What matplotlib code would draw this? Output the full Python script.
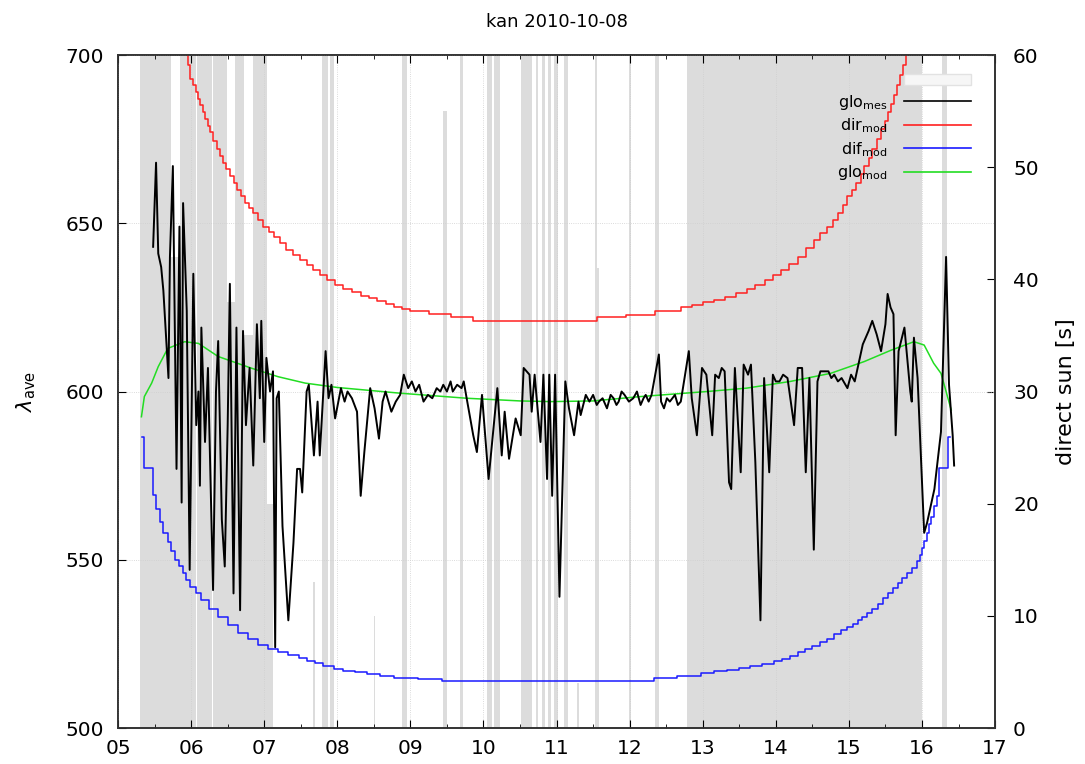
import matplotlib
matplotlib.use("Agg")
import matplotlib.pyplot as plt
from matplotlib.lines import Line2D
from matplotlib.patches import Patch
from matplotlib.ticker import FixedLocator, MultipleLocator
import numpy as np

plt.rcParams['font.family'] = ['DejaVu Sans']

# direct sun [s] per interval (start hour, end hour, seconds)
sun_t0 = [5.30, 5.73, 5.85, 6.08, 6.30, 6.49, 6.60, 6.72, 6.85, 7.04, 7.67, 7.79, 7.90,
          8.50, 8.89, 9.44, 9.68, 10.05, 10.15, 10.52, 10.72, 10.80, 10.88, 10.96,
          11.10, 11.28, 11.52, 11.56, 11.99, 12.35, 12.78, 16.27]
sun_t1 = [5.73, 5.85, 6.06, 6.28, 6.49, 6.60, 6.72, 6.85, 7.04, 7.12, 7.70, 7.87, 7.95,
          8.52, 8.96, 9.50, 9.72, 10.12, 10.22, 10.66, 10.75, 10.84, 10.92, 11.02,
          11.15, 11.31, 11.55, 11.58, 12.02, 12.40, 16.00, 16.34]
sun_s = [60, 42, 60, 60, 60, 38, 60, 35, 60, 20, 13, 60, 60,
         10, 60, 55, 60, 60, 60, 60, 60, 60, 60, 60,
         60, 4, 60, 41, 60, 60, 60, 60]

# measured global (glo_mes)
mes_h = [5.48, 5.52, 5.55, 5.59, 5.62, 5.66, 5.69, 5.71, 5.75, 5.78,
         5.80, 5.84, 5.87, 5.89, 5.94, 5.98, 6.03, 6.07, 6.10, 6.12,
         6.14, 6.19, 6.23, 6.30, 6.34, 6.37, 6.42, 6.46, 6.50, 6.53,
         6.58, 6.62, 6.67, 6.71, 6.75, 6.80, 6.85, 6.90, 6.94, 6.96,
         7.00, 7.03, 7.08, 7.12, 7.15, 7.17, 7.20, 7.25, 7.33, 7.40,
         7.45, 7.49, 7.52, 7.58, 7.61, 7.68, 7.73, 7.76, 7.84, 7.88,
         7.92, 7.97, 8.05, 8.10, 8.14, 8.20, 8.27, 8.32, 8.37, 8.45,
         8.51, 8.57, 8.62, 8.66, 8.74, 8.80, 8.86, 8.91, 8.97, 9.02,
         9.07, 9.12, 9.18, 9.24, 9.30, 9.36, 9.41, 9.45, 9.50, 9.55,
         9.58, 9.64, 9.70, 9.73, 9.77, 9.86, 9.91, 9.98, 10.07, 10.19,
         10.25, 10.29, 10.35, 10.44, 10.51, 10.55, 10.63, 10.66, 10.70, 10.78,
         10.82, 10.87, 10.90, 10.94, 10.98, 11.04, 11.12, 11.17, 11.24, 11.30,
         11.33, 11.40, 11.45, 11.50, 11.55, 11.58, 11.63, 11.69, 11.74, 11.78,
         11.82, 11.85, 11.89, 11.93, 11.99, 12.05, 12.10, 12.15, 12.19, 12.22,
         12.26, 12.30, 12.40, 12.43, 12.47, 12.51, 12.55, 12.62, 12.66, 12.70,
         12.81, 12.85, 12.92, 12.99, 13.05, 13.13, 13.17, 13.22, 13.26, 13.30,
         13.36, 13.39, 13.44, 13.52, 13.56, 13.62, 13.66, 13.72, 13.79, 13.84,
         13.91, 13.96, 14.00, 14.05, 14.10, 14.16, 14.25, 14.30, 14.36, 14.41,
         14.46, 14.52, 14.57, 14.61, 14.65, 14.72, 14.76, 14.80, 14.85, 14.90,
         14.98, 15.03, 15.08, 15.19, 15.27, 15.32, 15.38, 15.44, 15.50, 15.53,
         15.57, 15.61, 15.64, 15.68, 15.76, 15.84, 15.86, 15.89, 15.94, 16.03,
         16.07, 16.17, 16.26, 16.33, 16.37, 16.42, 16.44]
mes_v = [643, 668, 641, 637, 630, 615, 604, 640, 667, 612,
         577, 649, 567, 656, 624, 547, 635, 590, 600, 572,
         619, 585, 607, 541, 600, 615, 562, 548, 590, 632,
         540, 619, 535, 618, 590, 607, 578, 620, 598, 621,
         585, 610, 600, 606, 524, 598, 600, 560, 532, 555,
         577, 577, 570, 600, 602, 581, 597, 581, 612, 598,
         602, 592, 601, 597, 600, 598, 594, 569, 582, 601,
         595, 586, 597, 600, 594, 597, 599, 605, 601, 603,
         600, 602, 597, 599, 598, 601, 600, 602, 600, 603,
         600, 602, 601, 603, 598, 587, 582, 599, 574, 601,
         581, 594, 580, 592, 587, 607, 605, 594, 605, 585,
         605, 574, 605, 569, 605, 539, 603, 595, 587, 597,
         593, 599, 597, 599, 596, 597, 598, 595, 599, 598,
         596, 597, 600, 599, 597, 598, 600, 596, 598, 599,
         597, 599, 611, 597, 595, 598, 597, 599, 596, 597,
         612, 598, 587, 607, 605, 587, 605, 604, 607, 606,
         573, 571, 607, 576, 608, 605, 608, 579, 532, 604,
         576, 605, 603, 603, 605, 604, 590, 607, 607, 576,
         604, 553, 603, 606, 606, 606, 604, 605, 603, 604,
         601, 605, 603, 614, 618, 621, 617, 612, 620, 629,
         625, 623, 587, 612, 619, 600, 597, 616, 604, 558,
         561, 571, 588, 640, 602, 587, 578]

# modelled direct (dir_mod), step curve
dir_h = [5.93, 5.96, 5.99, 6.03, 6.06, 6.09, 6.12, 6.16, 6.19, 6.23, 6.26, 6.30, 6.35,
         6.39, 6.44, 6.48, 6.53, 6.58, 6.63, 6.68, 6.74, 6.79, 6.85, 6.92, 6.99, 7.06,
         7.13, 7.21, 7.30, 7.39, 7.49, 7.58, 7.67, 7.76, 7.86, 7.97, 8.08, 8.20, 8.32,
         8.43, 8.55, 8.66, 8.77, 8.88, 9.00, 9.25, 9.55, 9.85, 11.55, 11.95, 12.35,
         12.70, 12.85, 13.00, 13.15, 13.30, 13.45, 13.60, 13.72, 13.85, 13.96, 14.07,
         14.18, 14.30, 14.41, 14.52, 14.61, 14.70, 14.78, 14.85, 14.92, 14.98, 15.04,
         15.10, 15.16, 15.21, 15.27, 15.32, 15.38, 15.44, 15.49, 15.53, 15.58, 15.62,
         15.66, 15.70, 15.74, 15.78]
dir_v = [705, 697, 693, 691, 689, 687, 685, 683, 681, 679, 677, 674.5, 672,
         670, 668, 666, 664, 662, 660, 658, 656, 654.5, 653, 651, 649, 647.5,
         646, 644, 642, 640.5, 639, 637.5, 636, 634.5, 633, 631.7, 630.5, 629.5, 628.5,
         627.7, 627, 626, 625.2, 624.6, 624, 623, 622.2, 621, 622, 622.8, 624,
         625, 625.8, 626.5, 627.2, 628, 629.2, 630.5, 631.7, 633, 634.5, 636,
         638, 640, 642.5, 645, 647, 649, 651, 653, 655.5, 658, 660,
         662, 664.5, 667, 669.5, 672, 675, 678, 680.5, 683, 685.5, 688,
         691, 694, 697, 705]

# modelled diffuse (dif_mod), step curve
dif_h = [5.33, 5.36, 5.48, 5.52, 5.57, 5.62, 5.68, 5.73, 5.78, 5.84, 5.89, 5.93, 5.98,
         6.06, 6.14, 6.25, 6.37, 6.50, 6.64, 6.78, 6.92, 7.05, 7.19, 7.33, 7.47, 7.58,
         7.69, 7.81, 7.95, 8.08, 8.24, 8.40, 8.58, 8.77, 9.10, 9.43, 12.33, 12.65, 12.97,
         13.15, 13.33, 13.49, 13.65, 13.81, 13.97, 14.09, 14.20, 14.30, 14.40, 14.50,
         14.60, 14.70, 14.80, 14.89, 14.98, 15.05, 15.12, 15.18, 15.25, 15.32, 15.40,
         15.46, 15.53, 15.60, 15.67, 15.73, 15.80, 15.86, 15.93, 15.97, 16.00, 16.03,
         16.07, 16.10, 16.13, 16.16, 16.21, 16.23, 16.36, 16.38]
dif_v = [586.5, 577.3, 569.2, 565, 561.3, 558, 555.4, 552.5, 550, 548, 546, 544, 542,
         540, 538, 535.5, 533, 530.5, 528.2, 526.4, 524.7, 523.6, 522.7, 521.6, 520.7, 520,
         519.3, 518.3, 517.6, 517, 516.6, 516.2, 515.6, 515, 514.6, 514.1, 515, 515.6, 516.3,
         516.8, 517.3, 517.8, 518.3, 519, 519.8, 520.6, 521.5, 522.5, 523.5, 524.5,
         525.5, 526.6, 527.8, 529, 530.1, 531, 532, 533, 534.1, 535.5, 537,
         538.5, 540, 541.5, 543, 544.5, 546, 547.5, 549.5, 551.5, 553.5, 555.5,
         558, 560.5, 562.8, 566, 569, 577.3, 586.6, 586.6]

# modelled global (glo_mod)
glo_h = [5.32, 5.36, 5.46, 5.55, 5.68, 5.91, 6.10, 6.37, 6.83, 7.19, 7.56, 8.00, 8.86,
         9.77, 10.50, 10.92, 11.50, 12.15, 13.06, 13.60, 14.20, 14.75, 15.21, 15.58,
         15.89, 16.03, 16.16, 16.26, 16.33, 16.40]
glo_v = [592.5, 598.5, 602.5, 607.4, 612.8, 614.8, 614.3, 610.4, 606.9, 604.4, 602.5, 601.2, 599.5,
         598, 597.2, 597, 597.2, 598.5, 600, 601, 603, 605.4, 608.9, 612.3,
         614.8, 613.8, 608.4, 605.4, 600, 594.5]

hours = list(range(5, 18))
hour_labels = [f"{h:02d}" for h in hours]

fig = plt.figure(figsize=(10.85, 7.64), dpi=100)
ax = fig.add_axes([0.1088, 0.0471, 0.8083, 0.8809])
ax2 = ax.twinx()

# direct sun boxes behind the curves
ax2.bar(sun_t0, sun_s, width=np.array(sun_t1) - np.array(sun_t0), align='edge',
        color='#dcdcdc', edgecolor='none', zorder=1)
ax2.set_ylim(0, 60)
ax2.yaxis.set_major_locator(MultipleLocator(10))
ax2.set_ylabel("direct sun [s]", fontsize=16, labelpad=12)

ax.set_zorder(ax2.get_zorder() + 1)
ax.patch.set_visible(False)

ax.plot(dir_h, dir_v, color='#ff2020', lw=1.1, drawstyle='steps-post')
ax.plot(dif_h, dif_v, color='#1a1aff', lw=1.1, drawstyle='steps-post')
ax.plot(glo_h, glo_v, color='#22dd22', lw=1.1)
ax.plot(mes_h, mes_v, color='black', lw=1.4)

ax.set_xlim(5, 17)
ax.set_ylim(500, 700)
ax.xaxis.set_major_locator(FixedLocator(hours))
ax.set_xticklabels(hour_labels)
ax.xaxis.set_minor_locator(MultipleLocator(0.5))
ax.yaxis.set_major_locator(MultipleLocator(50))
ax.grid(True, color='#cfcfcf', lw=0.6, ls=':')
ax.set_ylabel(r"$\lambda_{\rm ave}$", fontsize=15, labelpad=20)
ax.set_title("kan 2010-10-08", fontsize=13, pad=20)

for a in (ax, ax2):
    for sp in a.spines.values():
        sp.set_color('#333333')
        sp.set_linewidth(1.2)
ax.tick_params(which='both', direction='in', top=True, right=False, labelsize=14.5)
ax.tick_params(which='major', length=6)
ax.tick_params(which='minor', length=3)
ax.tick_params(axis='y', pad=10)
ax.tick_params(axis='x', pad=8)
ax2.tick_params(direction='in', length=6, labelsize=14.5, pad=13)

handles = [Patch(facecolor='#f6f6f6', edgecolor='#e2e2e2'),
           Line2D([], [], color='black', lw=1.2),
           Line2D([], [], color='#ff2020', lw=1.2),
           Line2D([], [], color='#1a1aff', lw=1.2),
           Line2D([], [], color='#22dd22', lw=1.2)]
labels = [" ", r"glo$_{\rm mes}$", r"dir$_{\rm mod}$", r"dif$_{\rm mod}$", r"glo$_{\rm mod}$"]
ax.legend(handles, labels, loc='upper right', bbox_to_anchor=(0.985, 0.99),
          markerfirst=False, frameon=False, fontsize=11.5, handlelength=4.2,
          handletextpad=1.0, labelspacing=0.3, borderpad=0.2)

fig.savefig("out.png", dpi=100)
